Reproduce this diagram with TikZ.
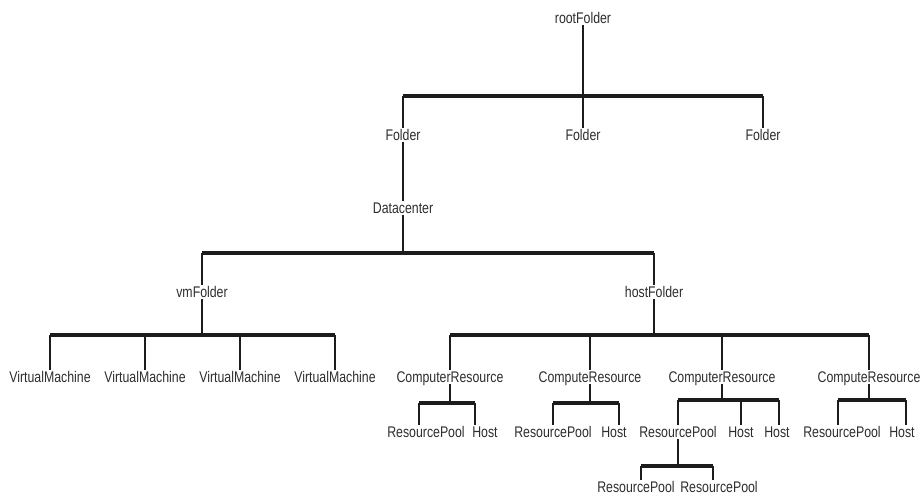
\documentclass[tikz,border=0pt]{standalone}
\usepackage{fontspec}
\setmainfont{Liberation Sans}[FakeStretch=0.8]
\usetikzlibrary{calc}
\definecolor{ln}{RGB}{28,28,28}
\definecolor{txt}{RGB}{45,45,45}
\tikzset{
  lbl/.style={inner sep=1.5pt, text height=11pt, text depth=0pt,
              font=\fontsize{15.4}{18}\selectfont, text=txt},
  stem/.style={draw=ln, line width=2.3pt},
  bar/.style={draw=ln, line width=4pt},
}

\begin{document}
\begin{tikzpicture}[x=1pt,y=-1pt]
\useasboundingbox (0,0) rectangle (921,497);
% top levels
\node[lbl] (root) at (583,18) {rootFolder};
\node[lbl] (fa) at (403,135) {Folder};
\node[lbl] (fb) at (583,135) {Folder};
\node[lbl] (fc) at (763,135) {Folder};
\node[lbl] (dc) at (403,208) {Datacenter};
\node[lbl] (vm) at (202,292) {vmFolder};
\node[lbl] (hf) at (654,292) {hostFolder};
\coordinate (ja) at (583,96);
\coordinate (jb) at (403,253);
\draw[stem] (root.south) -- (fb.north);
\draw[bar] (fa |- ja) -- (fc |- ja);
\draw[stem] (fa |- ja) -- (fa.north);
\draw[stem] (fc |- ja) -- (fc.north);
\draw[stem] (fa.south) -- (dc.north);
\draw[stem] (dc.south) -- (dc.south |- jb);
\draw[bar] (vm |- jb) -- (hf |- jb);
\draw[stem] (vm |- jb) -- (vm.north);
\draw[stem] (hf |- jb) -- (hf.north);

% virtual machines
\node[lbl] (vm1) at (50,377) {VirtualMachine};
\node[lbl] (vm2) at (145,377) {VirtualMachine};
\node[lbl] (vm3) at (240,377) {VirtualMachine};
\node[lbl] (vm4) at (335,377) {VirtualMachine};
\coordinate (jc) at (202,335);
\draw[stem] (vm.south) -- (vm.south |- jc);
\draw[bar] (vm1 |- jc) -- (vm4 |- jc);
\foreach \n in {vm1,vm2,vm3,vm4}
  \draw[stem] (\n |- jc) -- (\n.north);

% compute resources
\node[lbl] (cr1) at (450,377) {ComputerResource};
\node[lbl] (cr2) at (590,377) {ComputeResource};
\node[lbl] (cr3) at (722,377) {ComputerResource};
\node[lbl] (cr4) at (869,377) {ComputeResource};
\coordinate (jd) at (654,335);
\draw[stem] (hf.south) -- (hf.south |- jd);
\draw[bar] (cr1 |- jd) -- (cr4 |- jd);
\foreach \n in {cr1,cr2,cr3,cr4}
  \draw[stem] (\n |- jd) -- (\n.north);

% pools and hosts
\node[lbl] (rp1) at (426,432) {ResourcePool};
\node[lbl] (h1) at (485,432) {Host};
\node[lbl] (rp2) at (553,432) {ResourcePool};
\node[lbl] (h2) at (614,432) {Host};
\node[lbl] (rp3) at (678,432) {ResourcePool};
\node[lbl] (h3) at (741,432) {Host};
\node[lbl] (h4) at (777,432) {Host};
\node[lbl] (rp4) at (842,432) {ResourcePool};
\node[lbl] (h5) at (902,432) {Host};
\node[lbl] (rp5) at (636,487) {ResourcePool};
\node[lbl] (rp6) at (719,487) {ResourcePool};
\coordinate (e1) at (419,403); \coordinate (e2) at (475,403);
\coordinate (e3) at (553,403); \coordinate (e4) at (619,403);
\coordinate (e5) at (678,400); \coordinate (e6) at (779,400);
\coordinate (e7) at (838,400); \coordinate (e8) at (906,400);
\coordinate (e9) at (641,466); \coordinate (e10) at (713,466);
\draw[stem] (cr1.south) -- (cr1.south |- e1);
\draw[bar] (e1) -- (e2);
\draw[stem] (e1) -- (e1 |- rp1.north);
\draw[stem] (e2) -- (e2 |- h1.north);
\draw[stem] (cr2.south) -- (cr2.south |- e3);
\draw[bar] (e3) -- (e4);
\draw[stem] (e3) -- (e3 |- rp2.north);
\draw[stem] (e4) -- (e4 |- h2.north);
\draw[stem] (cr3.south) -- (cr3.south |- e5);
\draw[bar] (e5) -- (e6);
\draw[stem] (e5) -- (e5 |- rp3.north);
\draw[stem] (h3 |- e5) -- (h3.north);
\draw[stem] (e6) -- (e6 |- h4.north);
\draw[stem] (cr4.south) -- (cr4.south |- e7);
\draw[bar] (e7) -- (e8);
\draw[stem] (e7) -- (e7 |- rp4.north);
\draw[stem] (e8) -- (e8 |- h5.north);
\draw[stem] (rp3.south) -- (rp3.south |- e9);
\draw[bar] (e9) -- (e10);
\draw[stem] (e9) -- (e9 |- rp5.north);
\draw[stem] (e10) -- (e10 |- rp6.north);
\end{tikzpicture}
\end{document}
